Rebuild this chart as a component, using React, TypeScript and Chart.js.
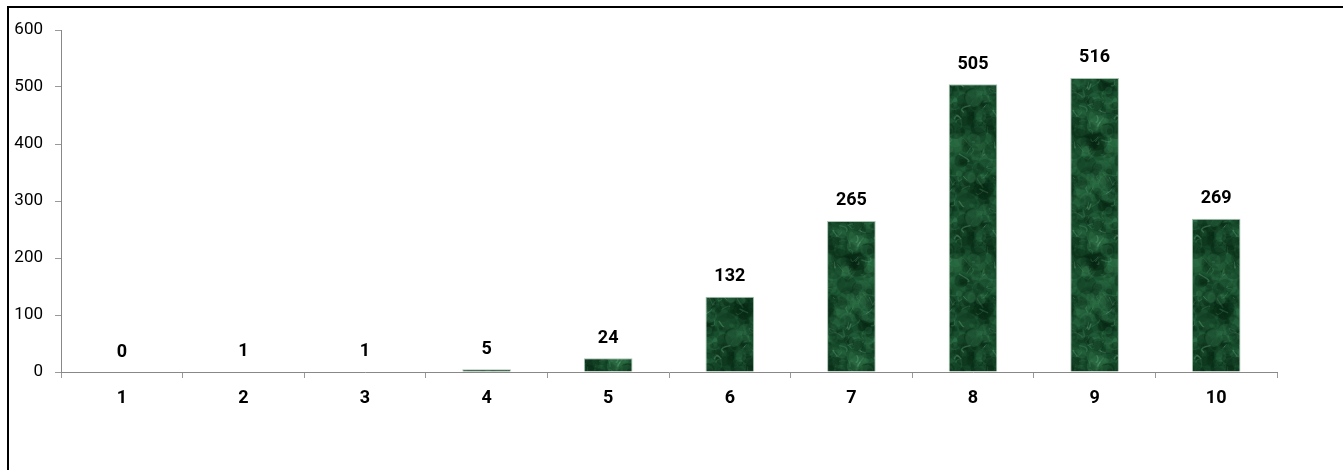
import React, { useEffect, useRef } from "react";
import { Chart, registerables } from "chart.js";

Chart.register(...registerables);

const categories = ["1", "2", "3", "4", "5", "6", "7", "8", "9", "10"];
const counts = [0, 1, 1, 5, 24, 132, 265, 505, 516, 269];
const yTicks = [0, 100, 200, 300, 400, 500, 600];

const FONT = "Roboto, 'Noto Sans', sans-serif";

function makeMarble(): CanvasPattern | string {
  const W = 80;
  const H = 120;
  const c = document.createElement("canvas");
  c.width = W;
  c.height = H;
  const g = c.getContext("2d");
  if (!g) return "#1a5230";
  g.fillStyle = "#1a5230";
  g.fillRect(0, 0, W, H);
  let s = 424242;
  const rnd = () => {
    s = (s * 1103515245 + 12345) & 0x7fffffff;
    return s / 0x7fffffff;
  };
  const wrap = (fn: (dx: number, dy: number) => void) => {
    for (const dx of [-W, 0, W]) for (const dy of [-H, 0, H]) fn(dx, dy);
  };
  for (let i = 0; i < 320; i++) {
    const x = rnd() * W;
    const y = rnd() * H;
    const r = 2 + rnd() * 8;
    const dark = rnd() < 0.55;
    const col = dark ? `rgba(6,36,18,${0.12 + rnd() * 0.25})` : `rgba(60,135,88,${0.08 + rnd() * 0.18})`;
    wrap((dx, dy) => {
      g.fillStyle = col;
      g.beginPath();
      g.arc(x + dx, y + dy, r, 0, Math.PI * 2);
      g.fill();
    });
  }
  for (let i = 0; i < 70; i++) {
    const x = rnd() * W;
    const y = rnd() * H;
    const a = 0.12 + rnd() * 0.25;
    const lw = 0.6 + rnd() * 0.8;
    const cx = (rnd() - 0.5) * 14;
    const cy = (rnd() - 0.5) * 14;
    const ex = (rnd() - 0.5) * 18;
    const ey = (rnd() - 0.5) * 18;
    wrap((dx, dy) => {
      g.strokeStyle = `rgba(110,180,135,${a})`;
      g.lineWidth = lw;
      g.beginPath();
      g.moveTo(x + dx, y + dy);
      g.quadraticCurveTo(x + dx + cx, y + dy + cy, x + dx + ex, y + dy + ey);
      g.stroke();
    });
  }
  const p = g.createPattern(c, "repeat");
  return p || "#1a5230";
}

const valueLabels = {
  id: "valueLabels",
  afterDatasetsDraw(chart: any) {
    const ctx = chart.ctx;
    const meta = chart.getDatasetMeta(0);
    ctx.save();
    ctx.font = `bold 18px ${FONT}`;
    ctx.fillStyle = "#000";
    ctx.textAlign = "center";
    ctx.textBaseline = "middle";
    meta.data.forEach((bar: any, i: number) => {
      ctx.fillText(String(counts[i]), bar.x, bar.y - 20);
    });
    ctx.restore();
  },
};

export default function App() {
  const ref = useRef<HTMLCanvasElement>(null);
  useEffect(() => {
    if (!ref.current) return;
    const chart = new Chart(ref.current, {
      type: "bar",
      data: {
        labels: categories,
        datasets: [
          {
            data: counts,
            backgroundColor: makeMarble() as any,
            borderColor: "rgba(160,190,170,0.9)",
            borderWidth: 1,
            barPercentage: 0.4,
            categoryPercentage: 1,
          },
        ],
      },
      options: {
        animation: false,
        responsive: false,
        maintainAspectRatio: false,
        layout: { padding: { left: 0, right: 66, top: 30, bottom: 0 } },
        plugins: { legend: { display: false }, tooltip: { enabled: false } },
        scales: {
          x: {
            grid: { display: true, drawOnChartArea: false, drawTicks: true, tickLength: 6, color: "#999", offset: true },
            border: { color: "#888", width: 1 },
            ticks: { color: "#000", font: { family: FONT, size: 18, weight: "bold" }, padding: 10 },
            afterFit: (scale: any) => {
              scale.height = 98;
            },
          },
          y: {
            min: 0,
            max: 600,
            afterBuildTicks: (scale: any) => {
              scale.ticks = yTicks.map((v) => ({ value: v }));
            },
            grid: { display: true, drawOnChartArea: false, drawTicks: true, tickLength: 6, color: "#999" },
            border: { color: "#888", width: 1 },
            ticks: { color: "#000", font: { family: FONT, size: 17 }, padding: 12 },
            afterFit: (scale: any) => {
              scale.width = 61;
            },
          },
        },
      },
      plugins: [valueLabels],
    });
    return () => chart.destroy();
  }, []);

  return (
    <div style={{ position: "fixed", left: 0, top: 0, width: 1343, height: 470, overflow: "hidden", background: "#fff" }}>
      <div
        style={{
          position: "absolute",
          left: 7,
          top: 6,
          width: 1400,
          height: 500,
          borderLeft: "2px solid #000",
          borderTop: "2px solid #000",
        }}
      />
      <canvas ref={ref} width={1343} height={470} style={{ position: "absolute", left: 0, top: 0, width: 1343, height: 470 }} />
    </div>
  );
}
